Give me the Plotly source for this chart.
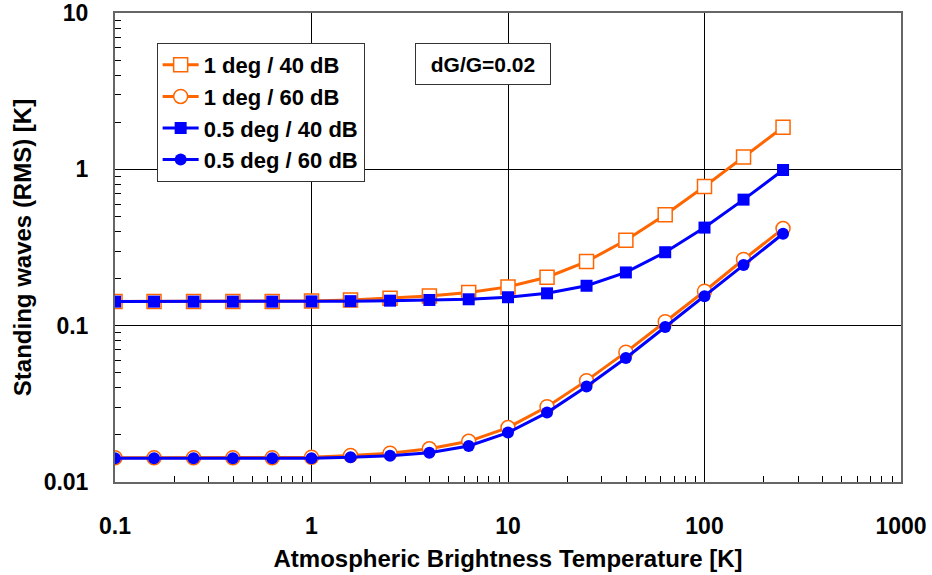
import plotly.graph_objects as go

# Atmospheric brightness temperature [K], five points per decade
t_atm = [0.1, 0.158, 0.251, 0.398, 0.631, 1, 1.58, 2.51, 3.98, 6.31,
         10, 15.8, 25.1, 39.8, 63.1, 100, 158, 251]

# RMS standing-wave amplitude [K] for each beam / isolation case
sw_1deg_40db = [0.143, 0.143, 0.143, 0.143, 0.143, 0.144, 0.146, 0.150, 0.155, 0.163,
                0.177, 0.204, 0.257, 0.352, 0.513, 0.776, 1.20, 1.86]
sw_1deg_60db = [0.0143, 0.0143, 0.0143, 0.0143, 0.0143, 0.0144, 0.0148, 0.0153, 0.0163, 0.0182,
                0.0223, 0.0303, 0.0445, 0.0677, 0.106, 0.166, 0.265, 0.418]
sw_05deg_40db = [0.1425, 0.1425, 0.1425, 0.1425, 0.1425, 0.143, 0.1435, 0.1445, 0.146, 0.1475,
                 0.152, 0.161, 0.180, 0.219, 0.295, 0.424, 0.64, 0.99]
sw_05deg_60db = [0.0142, 0.0142, 0.0142, 0.0142, 0.0142, 0.0142, 0.0144, 0.0147, 0.0154, 0.0170,
                 0.0207, 0.0278, 0.0408, 0.0621, 0.098, 0.154, 0.244, 0.387]

series_names = ["1 deg / 40 dB", "1 deg / 60 dB", "0.5 deg / 40 dB", "0.5 deg / 60 dB"]
x_tick_vals = [0.1, 1, 10, 100, 1000]
x_tick_text = ["0.1", "1", "10", "100", "1000"]
y_tick_vals = [0.01, 0.1, 1, 10]
y_tick_text = ["0.01", "0.1", "1", "10"]

# 2..9 subdivisions inside each decade for the minor ticks
x_minor = [m * 10.0 ** e for e in range(-1, 3) for m in range(2, 10)]
y_minor = [m * 10.0 ** e for e in range(-2, 1) for m in range(2, 10)]

ORANGE = "#FF6600"
BLUE = "#0000FF"
FONT = "Liberation Sans, Arial, sans-serif"

fig = go.Figure()
fig.add_trace(go.Scatter(
    x=t_atm, y=sw_1deg_40db, name=series_names[0], mode="lines+markers",
    line=dict(color=ORANGE, width=3),
    marker=dict(symbol="square", size=14, color="white", line=dict(color=ORANGE, width=1.5)),
))
fig.add_trace(go.Scatter(
    x=t_atm, y=sw_1deg_60db, name=series_names[1], mode="lines+markers",
    line=dict(color=ORANGE, width=3),
    marker=dict(symbol="circle", size=14, color="white", line=dict(color=ORANGE, width=1.5)),
))
fig.add_trace(go.Scatter(
    x=t_atm, y=sw_05deg_40db, name=series_names[2], mode="lines+markers",
    line=dict(color=BLUE, width=3),
    marker=dict(symbol="square", size=12, color=BLUE, line=dict(color=BLUE, width=0)),
))
fig.add_trace(go.Scatter(
    x=t_atm, y=sw_05deg_60db, name=series_names[3], mode="lines+markers",
    line=dict(color=BLUE, width=3),
    marker=dict(symbol="circle", size=12, color=BLUE, line=dict(color=BLUE, width=0)),
))

axis_common = dict(
    type="log", automargin=False,
    showgrid=True, gridcolor="black", gridwidth=1,
    showline=True, linecolor="#666666", linewidth=2, mirror=True,
    ticks="", zeroline=False,
    tickfont=dict(family=FONT, size=23, color="black", weight="bold"),
)
title_font = dict(family=FONT, size=24, color="black", weight="bold")

fig.update_xaxes(
    **axis_common,
    range=[-1, 3],
    tickmode="array", tickvals=x_tick_vals, ticktext=x_tick_text,
    ticklabelstandoff=22,
    minor=dict(ticks="inside", ticklen=6, tickcolor="black", tickwidth=1,
               showgrid=False, tickmode="array", tickvals=x_minor),
    title=dict(text="Atmospheric Brightness Temperature [K]", standoff=13, font=title_font),
)
fig.update_yaxes(
    **axis_common,
    range=[-2, 1],
    tickmode="array", tickvals=y_tick_vals, ticktext=y_tick_text,
    ticklabelstandoff=20,
    minor=dict(ticks="inside", ticklen=6, tickcolor="black", tickwidth=1,
               showgrid=False, tickmode="array", tickvals=y_minor),
    title=dict(text="Standing waves (RMS) [K]", standoff=5, font=title_font),
)

fig.add_annotation(
    text="dG/G=0.02", xref="paper", yref="paper", x=0.468, y=0.892,
    xanchor="center", yanchor="middle", showarrow=False,
    font=dict(family=FONT, size=21, color="black", weight="bold"),
    bordercolor="#333333", borderwidth=1, borderpad=6, bgcolor="white",
    width=122, height=28,
)

fig.update_layout(
    width=932, height=575,
    margin=dict(l=115, r=31, t=13, b=93, autoexpand=False),
    plot_bgcolor="white", paper_bgcolor="white",
    font=dict(family=FONT, color="black"),
    showlegend=True,
    legend=dict(
        x=0.053, y=0.936, xanchor="left", yanchor="top",
        bgcolor="white", bordercolor="#333333", borderwidth=1,
        font=dict(family=FONT, size=22, color="black", weight="bold"),
        tracegroupgap=0, itemwidth=36,
    ),
)

fig.write_html("out.html")
